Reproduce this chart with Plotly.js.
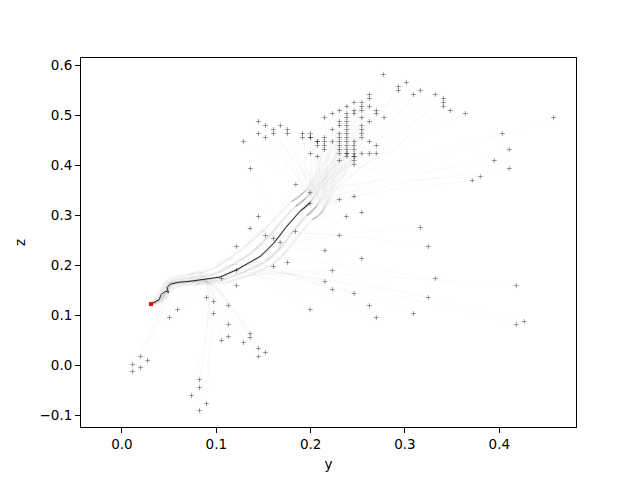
<!DOCTYPE html>
<html>
<head>
<meta charset="utf-8">
<script src="https://cdn.plot.ly/plotly-3.0.1.min.js"></script>
<style>html,body{margin:0;padding:0;background:#fff;}#chart{width:640px;height:480px;}</style>
</head>
<body>
<div id="chart"></div>
<script>
// ---- endpoint data (y, z) ----
// upper region: isolated points and the dense cluster
const topY = [0.2771,0.3015,0.293,0.293,0.309,0.3163,0.3322,0.3407,0.3407,0.3407,0.348,0.364,0.4576,0.4032,0.4106,0.4106,0.3947,0.3714,0.3799,0.2147,0.2779,
  0.2231,0.2231,0.2231,
  0.2305,0.2305,0.2305,0.2305,0.2305,0.2305,0.2305,0.2305,0.2305,0.2305,
  0.2384,0.2384,0.2384,0.2384,0.2384,0.2384,0.2384,0.2384,0.2384,0.2384,0.2384,0.2384,0.2384,0.2384,
  0.2461,0.2461,0.2461,0.2461,0.2461,0.2461,0.2461,0.2461,0.2461,0.2461,0.2461,
  0.2542,0.2542,0.2542,0.2542,0.2542,0.2542,0.2542,0.2542,0.2542,
  0.2623,0.2623,0.2623,0.2623,0.2623,0.2623,
  0.2697,0.2697,0.2697,0.2697,
  0.1447,0.1521,0.168,0.1606,0.1754,0.1447,0.1606,0.1754,0.1521,0.1288,0.1913,0.1998,0.1913,0.1998,0.1998,0.2072,0.2072,0.2146,0.2146,0.2072,0.2146,0.2146,0.1998,0.2072];
const topZ = [0.582,0.566,0.558,0.550,0.542,0.550,0.542,0.534,0.526,0.518,0.510,0.504,0.496,0.464,0.432,0.394,0.410,0.370,0.378,0.496,0.496,
  0.504,0.472,0.448,
  0.510,0.488,0.480,0.464,0.456,0.448,0.440,0.432,0.424,0.410,
  0.518,0.504,0.496,0.488,0.480,0.472,0.464,0.456,0.448,0.440,0.432,0.424,0.424,0.418,
  0.526,0.510,0.504,0.448,0.440,0.432,0.424,0.418,0.418,0.410,0.402,
  0.526,0.518,0.510,0.496,0.480,0.472,0.464,0.456,0.424,
  0.542,0.534,0.518,0.488,0.448,0.424,
  0.510,0.504,0.440,0.424,
  0.488,0.480,0.480,0.472,0.472,0.464,0.464,0.464,0.456,0.448,0.464,0.464,0.456,0.456,0.456,0.448,0.448,0.456,0.448,0.440,0.440,0.432,0.424,0.418];
// middle band
const midY = [0.1362,0.1843,0.1995,0.1995,0.2305,0.2461,0.2542,0.2379,0.1447,0.1359,0.1521,0.1606,0.1677,0.1839,0.2305,0.1214,0.1754,0.2151,0.2542,0.3248,0.3163];
const midZ = [0.394,0.362,0.346,0.324,0.332,0.338,0.306,0.298,0.298,0.274,0.260,0.254,0.246,0.268,0.260,0.238,0.206,0.230,0.214,0.238,0.276];
// lower right
const lowRY = [0.1606,0.2231,0.2151,0.2231,0.2461,0.2623,0.2697,0.1995,0.3090,0.3248,0.3322,0.4180,0.4180,0.4266];
const lowRZ = [0.198,0.190,0.168,0.152,0.144,0.120,0.096,0.112,0.104,0.136,0.174,0.160,0.082,0.088];
// lower left
const lowLY = [0.1214,0.1214,0.1055,0.0896,0.0971,0.0971,0.1129,0.1129,0.1129,0.1055,0.1359,0.1359,0.1288,0.1447,0.1447,0.1521,0.0589,0.0504,0.0822,0.0822,0.0737,0.0896,0.0822];
const lowLZ = [0.190,0.160,0.174,0.136,0.128,0.104,0.120,0.082,0.058,0.050,0.064,0.056,0.046,0.034,0.018,0.026,0.112,0.096,-0.028,-0.044,-0.060,-0.076,-0.090];
// far left
const farY = [0.0197,0.0271,0.0112,0.0197,0.0112];
const farZ = [0.018,0.010,0.002,-0.004,-0.012];

// ---- strands of the grey trajectory bundle around the mean path ----
const trunkAY = [0.031,0.040,0.047,0.051,0.060,0.072,0.087,0.104,0.122,0.147,0.161,0.175,0.189,0.199];
const trunkAZ = [0.123,0.132,0.149,0.163,0.167,0.169,0.172,0.177,0.192,0.219,0.245,0.279,0.309,0.325];
const trunkBY = [0.031,0.038,0.044,0.050,0.060,0.072,0.087,0.102,0.118,0.140,0.155,0.170,0.184,0.195];
const trunkBZ = [0.123,0.134,0.152,0.166,0.172,0.175,0.178,0.186,0.202,0.230,0.257,0.290,0.318,0.335];
const trunkCY = [0.031,0.041,0.048,0.053,0.062,0.074,0.090,0.108,0.128,0.153,0.168,0.182,0.196,0.206];
const trunkCZ = [0.123,0.130,0.146,0.160,0.164,0.166,0.168,0.172,0.186,0.210,0.236,0.270,0.300,0.318];
const trunkDY = [0.031,0.036,0.042,0.048,0.058,0.070,0.085,0.099,0.113,0.133,0.150,0.166,0.180,0.192];
const trunkDZ = [0.123,0.136,0.155,0.170,0.177,0.181,0.186,0.196,0.213,0.242,0.270,0.302,0.328,0.345];
const trunkEY = [0.031,0.043,0.050,0.056,0.065,0.078,0.094,0.113,0.134,0.159,0.174,0.188,0.202,0.213];
const trunkEZ = [0.123,0.128,0.143,0.156,0.160,0.162,0.164,0.167,0.180,0.202,0.228,0.262,0.292,0.310];

// ---- mean path (black) ----
const meanY = [0.0307,0.0350,0.0395,0.0416,0.0466,0.0494,0.0477,0.0512,0.060,0.0724,0.087,0.104,0.122,0.147,0.161,0.175,0.189,0.199];
const meanZ = [0.123,0.128,0.132,0.1426,0.149,0.146,0.156,0.1626,0.1666,0.1686,0.172,0.177,0.192,0.219,0.245,0.279,0.309,0.325];
const startY = [0.0307], startZ = [0.123];

const trunks = [[trunkAY,trunkAZ],[trunkBY,trunkBZ],[trunkCY,trunkCZ],[trunkDY,trunkDZ],[trunkEY,trunkEZ]];
const groups = [
  {ys: topY, zs: topZ, n: 14},
  {ys: midY, zs: midZ, n: 11},
  {ys: lowRY, zs: lowRZ, n: 9},
  {ys: lowLY, zs: lowLZ, n: 7},
  {ys: farY, zs: farZ, n: 4}
];

const traces = [];
// bundle strands
const strandAlpha = [0.16, 0.09, 0.09, 0.05, 0.05];
trunks.forEach((t, j) => {
  traces.push({
    x: t[0], y: t[1], mode: 'lines', type: 'scatter', hoverinfo: 'skip', showlegend: false,
    line: {color: 'rgba(0,0,0,' + strandAlpha[j] + ')', width: 2.2, shape: 'spline', smoothing: 1}
  });
});
// branches from the bundle to each endpoint
let k = 0;
groups.forEach(g => {
  g.ys.forEach((ey, i) => {
    const t = trunks[k % 5]; k++;
    traces.push({
      x: t[0].slice(g.n - 2, g.n).concat([ey]),
      y: t[1].slice(g.n - 2, g.n).concat([g.zs[i]]),
      mode: 'lines', type: 'scatter', hoverinfo: 'skip', showlegend: false,
      line: {color: 'rgba(0,0,0,0.03)', width: 0.8, shape: 'spline', smoothing: 1.2}
    });
  });
});

const allY = [].concat(topY, midY, lowRY, lowLY, farY);
const allZ = [].concat(topZ, midZ, lowRZ, lowLZ, farZ);
traces.push({
  x: allY, y: allZ, mode: 'markers', type: 'scatter', showlegend: false,
  marker: {symbol: 'cross-thin', size: 3.6, color: 'rgba(0,0,0,0.36)', line: {width: 1, color: 'rgba(0,0,0,0.36)'}}
});
traces.push({
  x: meanY, y: meanZ, mode: 'lines', type: 'scatter', showlegend: false,
  line: {color: '#111', width: 0.9}
});
traces.push({
  x: startY, y: startZ, mode: 'markers', type: 'scatter', showlegend: false,
  marker: {symbol: 'square', size: 4, color: 'red'}
});

const axisCommon = {
  showgrid: false, zeroline: false, showline: true, mirror: true,
  linecolor: 'black', linewidth: 1, ticks: 'outside', ticklen: 5, tickwidth: 1, tickcolor: 'black',
  tickfont: {family: 'DejaVu Sans', size: 13.5, color: 'black'}
};
const layout = {
  width: 640, height: 480,
  margin: {l: 81, r: 64, t: 58, b: 53},
  paper_bgcolor: 'white', plot_bgcolor: 'white',
  font: {family: 'DejaVu Sans', color: 'black'},
  xaxis: Object.assign({}, axisCommon, {
    range: [-0.0434, 0.4813], tickvals: [0, 0.1, 0.2, 0.3, 0.4], tickformat: '.1f',
    title: {text: 'y', font: {family: 'DejaVu Sans', size: 13.5}, standoff: 8}
  }),
  yaxis: Object.assign({}, axisCommon, {
    range: [-0.1228, 0.615], tickvals: [-0.1, 0, 0.1, 0.2, 0.3, 0.4, 0.5, 0.6], tickformat: '.1f',
    title: {text: 'z', font: {family: 'DejaVu Sans', size: 13.5}, standoff: 10}
  }),
  showlegend: false
};
Plotly.newPlot('chart', traces, layout, {displayModeBar: false, staticPlot: true});
</script>
</body>
</html>
